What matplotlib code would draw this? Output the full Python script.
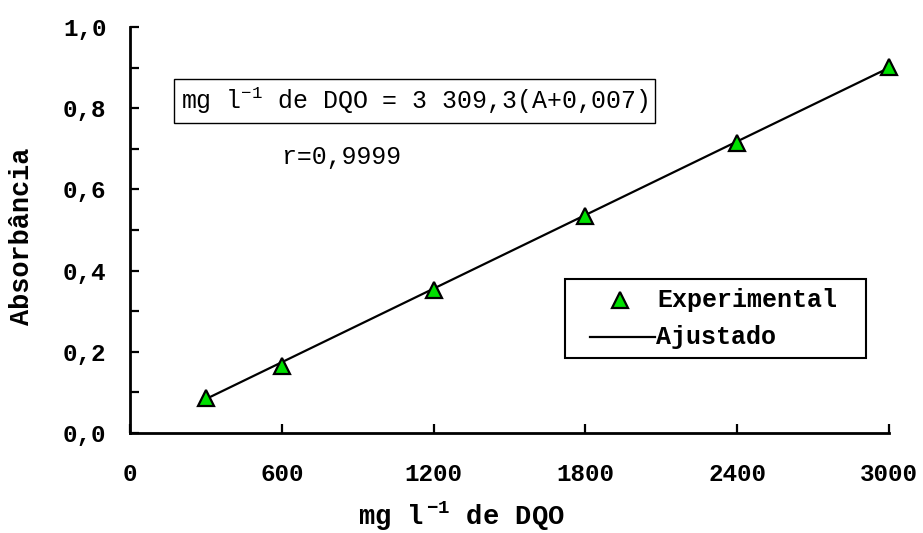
import matplotlib
matplotlib.use("Agg")
import matplotlib.pyplot as plt
import numpy as np
from matplotlib.patches import Rectangle

# Data
conc = [300, 600, 1200, 1800, 2400, 3000]
absorb = [0.086, 0.166, 0.352, 0.535, 0.714, 0.902]
fit_x = [300, 3000]
slope_k = 3309.3
offset = 0.007
x_ticks = [0, 600, 1200, 1800, 2400, 3000]
x_ticklabels = ["0", "600", "1200", "1800", "2400", "3000"]
y_ticks = [0.0, 0.2, 0.4, 0.6, 0.8, 1.0]
y_ticklabels = ["0,0", "0,2", "0,4", "0,6", "0,8", "1,0"]
legend_labels = ["Experimental", "Ajustado"]

plt.rcParams['font.family'] = ['Liberation Mono', 'DejaVu Sans Mono']
plt.rcParams['mathtext.fontset'] = 'custom'
plt.rcParams['mathtext.rm'] = 'Liberation Mono'
plt.rcParams['mathtext.it'] = 'Liberation Mono'
plt.rcParams['mathtext.bf'] = 'Liberation Mono:bold'

FS = 17.5
W, H = 923, 533
fig = plt.figure(figsize=(W / 100, H / 100), dpi=100)
x0, x1, ytop, ybot = 130, 889, 27, 433
ax = fig.add_axes([x0 / W, (H - ybot) / H, (x1 - x0) / W, (ybot - ytop) / H])

def axc(px, py):
    return ((px - x0) / (x1 - x0), (ybot - py) / (ybot - ytop))

green = '#00e000'
fit_y = [x / slope_k - offset for x in fit_x]
ax.plot(fit_x, fit_y, color='black', lw=1.6, zorder=2)
ax.plot(conc, absorb, linestyle='none', marker='^', markersize=11,
        markerfacecolor=green, markeredgecolor='black', markeredgewidth=1.6,
        zorder=3, clip_on=False)

ax.set_xlim(0, 3000)
ax.set_ylim(0, 1.0)
for s in ['top', 'right']:
    ax.spines[s].set_visible(False)
for s in ['left', 'bottom']:
    ax.spines[s].set_linewidth(2)

ax.set_xticks(x_ticks)
ax.set_xticklabels(x_ticklabels, fontweight='bold', fontsize=FS)
ax.set_yticks(y_ticks)
ax.set_yticklabels(y_ticklabels, fontweight='bold', fontsize=FS)
ax.set_yticks(np.arange(0.1, 1.0, 0.2), minor=True)
ax.tick_params(axis='both', which='major', direction='in', length=6.5, width=1.6)
ax.tick_params(axis='x', which='major', pad=21.5)
ax.tick_params(axis='y', which='major', pad=17)
ax.tick_params(axis='y', which='minor', direction='in', length=6.5, width=1.6)

fig.text(461 / W, 1 - 516 / H, r"mg l$\,^{\mathbf{-1}}$ de DQO", fontweight='bold',
         fontsize=19.5, ha='center', va='center')
fig.text(22 / W, 1 - 236 / H, "Absorbância", fontweight='bold', fontsize=19.4,
         ha='center', va='center', rotation=90)

tx, ty = axc(181, 101)
ax.text(tx, ty, r"mg l$^{-1}$ de DQO = 3 309,3(A+0,007)", transform=ax.transAxes,
        fontsize=17.9, ha='left', va='center',
        bbox=dict(boxstyle='square,pad=0.28', facecolor='white', edgecolor='black', lw=1))
rx, ry = axc(282, 157)
ax.text(rx, ry, "r=0,9999", transform=ax.transAxes, fontsize=17.9, ha='left', va='center')

# legend (manual)
lx0, ly0 = axc(565, 358)
lx1, ly1 = axc(866, 279)
ax.add_patch(Rectangle((lx0, ly0), lx1 - lx0, ly1 - ly0, transform=ax.transAxes,
                       facecolor='white', edgecolor='black', lw=1.5, zorder=4))
mx, my = axc(620, 300)
ax.plot([mx], [my], transform=ax.transAxes, marker='^', markersize=11, linestyle='none',
        markerfacecolor=green, markeredgecolor='black', markeredgewidth=1.6, zorder=5)
t1x, t1y = axc(657, 300)
ax.text(t1x, t1y, legend_labels[0], transform=ax.transAxes, fontsize=18,
        fontweight='bold', ha='left', va='center', zorder=5)
ax0x, ayy = axc(590, 337)
ax1x, _ = axc(655, 337)
ax.plot([ax0x, ax1x], [ayy, ayy], transform=ax.transAxes, color='black', lw=1.6, zorder=5)
t2x, t2y = axc(656, 337)
ax.text(t2x, t2y, legend_labels[1], transform=ax.transAxes, fontsize=18,
        fontweight='bold', ha='left', va='center', zorder=5)

fig.savefig("out.png", dpi=100)
